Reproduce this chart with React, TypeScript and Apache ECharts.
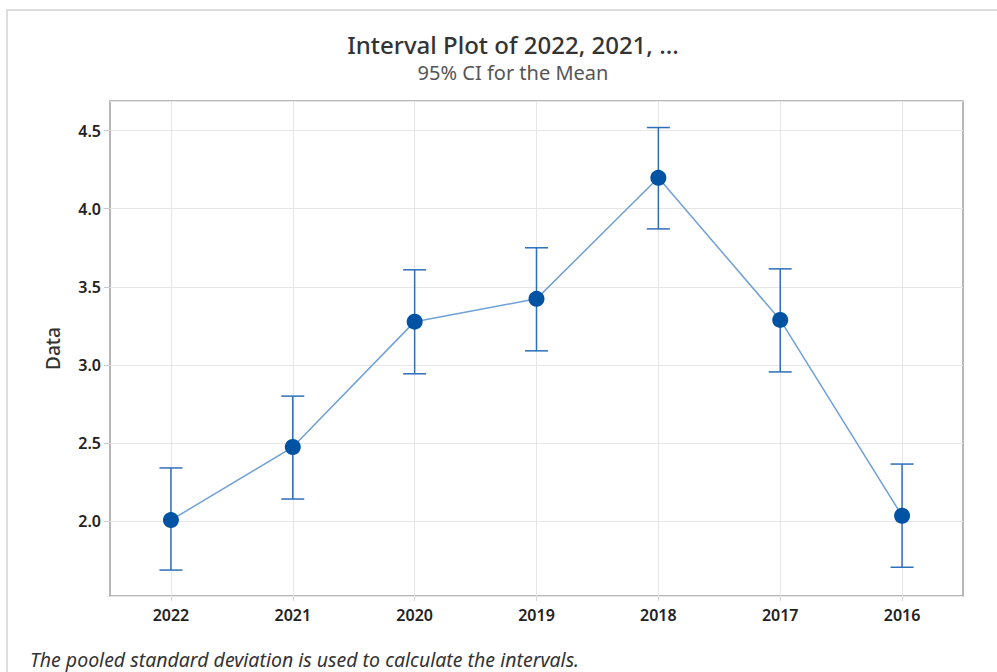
import React, { useEffect, useRef } from "react";
import * as echarts from "echarts";

const categories = ["2022", "2021", "2020", "2019", "2018", "2017", "2016"];
const means = [2.006, 2.474, 3.277, 3.423, 4.198, 3.288, 2.034];
const lower = [1.686, 2.141, 2.943, 3.09, 3.871, 2.955, 1.704];
const upper = [2.34, 2.8, 3.609, 3.75, 4.52, 3.615, 2.365];

const titleText = "Interval Plot of 2022, 2021, ...";
const subtitleText = "95% CI for the Mean";
const yAxisName = "Data";
const footnote = "The pooled standard deviation is used to calculate the intervals.";

const FONT = "'Noto Sans', 'Open Sans', sans-serif";

export default function App() {
  const ref = useRef<HTMLDivElement>(null);
  useEffect(() => {
    if (!ref.current) return;
    const chart = echarts.init(ref.current, undefined, { renderer: "svg" });
    const barData = categories.map((_, i) => [i, lower[i], upper[i]]);
    chart.setOption({
      animation: false,
      backgroundColor: "#ffffff",
      title: [
        {
          text: titleText,
          left: 508,
          textAlign: "center",
          top: 27,
          textStyle: { fontFamily: FONT, fontSize: 24, fontWeight: 500, color: "#333333" },
        },
        {
          text: subtitleText,
          left: 508,
          textAlign: "center",
          top: 57,
          textStyle: { fontFamily: FONT, fontSize: 20, fontWeight: 400, color: "#555555" },
        },
      ],
      graphic: [
        {
          type: "rect",
          shape: { x: 7, y: 10, width: 1000, height: 700 },
          style: { fill: "none", stroke: "#dddddd", lineWidth: 2 },
          silent: true,
        },
        {
          type: "text",
          left: 30,
          top: 649,
          style: {
            text: footnote,
            fontFamily: FONT,
            fontSize: 19.5,
            fontStyle: "italic",
            fill: "#333333",
          },
        },
      ],
      grid: {
        left: 110,
        right: 34,
        top: 101,
        bottom: 76,
        show: true,
        borderColor: "#a0a0a0",
        borderWidth: 1.5,
        backgroundColor: "transparent",
      },
      xAxis: {
        type: "category",
        data: categories,
        boundaryGap: true,
        axisLine: { show: false },
        axisTick: { show: true, alignWithLabel: true, length: 5, lineStyle: { color: "#d8d8d8" } },
        splitLine: { show: true, alignWithLabel: true, lineStyle: { color: "#e6e6e6", width: 1 } },
        axisLabel: {
          margin: 11,
          fontFamily: FONT,
          fontSize: 16,
          fontWeight: 600,
          color: "#222222",
        },
      },
      yAxis: {
        type: "value",
        min: 1.52,
        max: 4.69,
        splitNumber: 6,
        name: yAxisName,
        nameLocation: "middle",
        nameGap: 48,
        nameTextStyle: { fontFamily: FONT, fontSize: 19, fontWeight: 500, color: "#333333" },
        axisLine: { show: false },
        axisTick: { show: true, length: 6, lineStyle: { color: "#cccccc" } },
        splitLine: { show: true, lineStyle: { color: "#e6e6e6", width: 1 } },
        axisLabel: {
          margin: 9,
          showMinLabel: false,
          showMaxLabel: false,
          fontFamily: FONT,
          fontSize: 16,
          fontWeight: 600,
          color: "#222222",
          formatter: (v: number) => v.toFixed(1),
        },
      },
      series: [
        {
          type: "line",
          data: means,
          symbol: "none",
          lineStyle: { color: "#6fa0d6", width: 1.5 },
          z: 2,
        },
        {
          type: "custom",
          data: barData,
          z: 3,
          renderItem: (params: any, api: any) => {
            const i = api.value(0);
            const top = api.coord([i, api.value(2)]);
            const bot = api.coord([i, api.value(1)]);
            const hw = 11.5;
            const st = { stroke: "#2d6fba", lineWidth: 1.5 };
            return {
              type: "group",
              children: [
                { type: "line", shape: { x1: top[0], y1: top[1], x2: bot[0], y2: bot[1] }, style: st },
                { type: "line", shape: { x1: top[0] - hw, y1: top[1], x2: top[0] + hw, y2: top[1] }, style: st },
                { type: "line", shape: { x1: bot[0] - hw, y1: bot[1], x2: bot[0] + hw, y2: bot[1] }, style: st },
              ],
            };
          },
        },
        {
          type: "scatter",
          data: means,
          symbol: "circle",
          symbolSize: 16,
          itemStyle: { color: "#0052a3", opacity: 1 },
          z: 4,
        },
      ],
    });
    return () => chart.dispose();
  }, []);
  return (
    <div
      ref={ref}
      style={{ position: "absolute", left: 0, top: 0, width: 997, height: 672 }}
    />
  );
}
